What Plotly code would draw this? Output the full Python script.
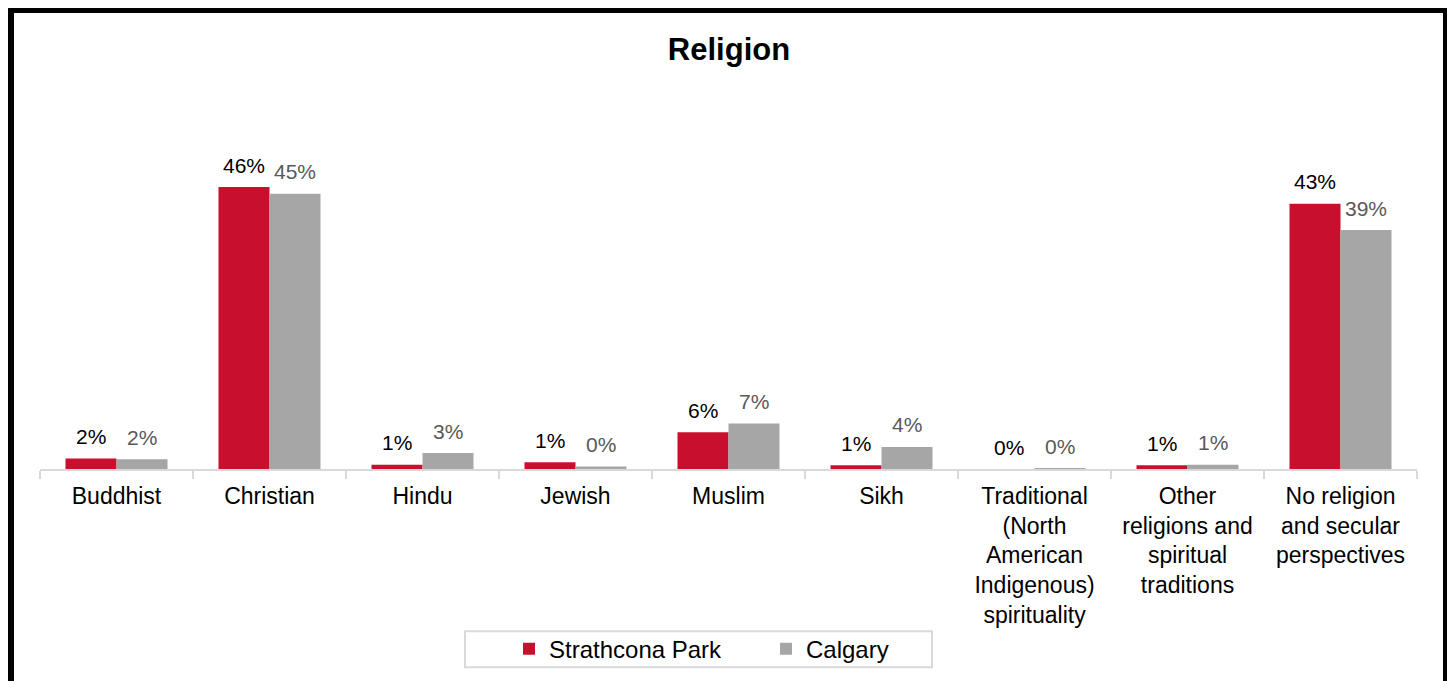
import plotly.graph_objects as go

categories = ["Buddhist", "Christian", "Hindu", "Jewish", "Muslim", "Sikh",
              "Traditional<br>(North<br>American<br>Indigenous)<br>spirituality",
              "Other<br>religions and<br>spiritual<br>traditions",
              "No religion<br>and secular<br>perspectives"]
strathcona = [1.7, 45.9, 0.7, 1.1, 6.0, 0.6, 0.0, 0.6, 43.2]
calgary = [1.6, 44.8, 2.6, 0.4, 7.4, 3.6, 0.1, 0.7, 38.9]
series_names = ["Strathcona Park", "Calgary"]

RED = "#C8102E"
GRAY = "#A6A6A6"
FONT = "Liberation Sans, Arial, sans-serif"

# figure-space geometry (page is offset by the 8px body margin)
L, R, T, B = 32, 46, 92, 219.5
W, H = 1455, 681
PH = H - T - B          # plot height
PW = W - L - R          # plot width


def px(fx):
    return (fx - L) / PW


def py(fy):
    return (H - B - fy) / PH


fig = go.Figure()
fig.add_bar(x=categories, y=strathcona, name=series_names[0], marker_color=RED,
            marker_line_width=0)
fig.add_bar(x=categories, y=calgary, name=series_names[1], marker_color=GRAY,
            marker_line_width=0)

annotations = []
for vals, shift, col in [(strathcona, -25.5, "#000000"), (calgary, 25.5, "#595959")]:
    for c, v in zip(categories, vals):
        annotations.append(dict(x=c, y=v, xref="x", yref="y", text=f"{v:.0f}%",
                                showarrow=False, xshift=shift, yshift=22,
                                yanchor="middle",
                                font=dict(family=FONT, size=21, color=col)))

fig.update_layout(
    width=W, height=H,
    margin=dict(l=L, r=R, t=T, b=B, pad=0),
    paper_bgcolor="white", plot_bgcolor="white",
    barmode="group", bargap=1/3, bargroupgap=0,
    title=dict(text="<b>Religion</b>", x=721 / W, xanchor="center",
               y=1 - 41 / H, yanchor="middle",
               font=dict(family=FONT, size=31, color="black")),
    font=dict(family=FONT, color="black"),
    showlegend=True,
    legend=dict(orientation="h", x=px(501), xanchor="left", y=py(642), yanchor="middle",
                borderwidth=0, bgcolor="rgba(0,0,0,0)",
                font=dict(family=FONT, size=24, color="black"),
                entrywidth=212, entrywidthmode="pixels", itemsizing="constant"),
    annotations=annotations,
    shapes=[
        dict(type="rect", xref="paper", yref="paper",
             x0=px(457), x1=px(924), y0=py(660), y1=py(624),
             line=dict(color="#D9D9D9", width=2), fillcolor="rgba(0,0,0,0)", layer="below"),
        dict(type="path", xref="paper", yref="paper",
             path=f"M {px(3)},{py(700)} L {px(3)},{py(2)} L {px(1438)},{py(2)} L {px(1438)},{py(700)}",
             line=dict(color="black", width=6)),
    ],
)
fig.update_xaxes(showline=True, linecolor="#D9D9D9", linewidth=2,
                 ticks="outside", tickson="boundaries", ticklen=8, tickcolor="#D9D9D9",
                 tickwidth=2, showgrid=False, ticklabelstandoff=5,
                 tickfont=dict(family=FONT, size=23, color="black"))
fig.update_yaxes(range=[0, PH / 6.15], visible=False, showgrid=False, zeroline=False)

fig.write_html("out.html")
